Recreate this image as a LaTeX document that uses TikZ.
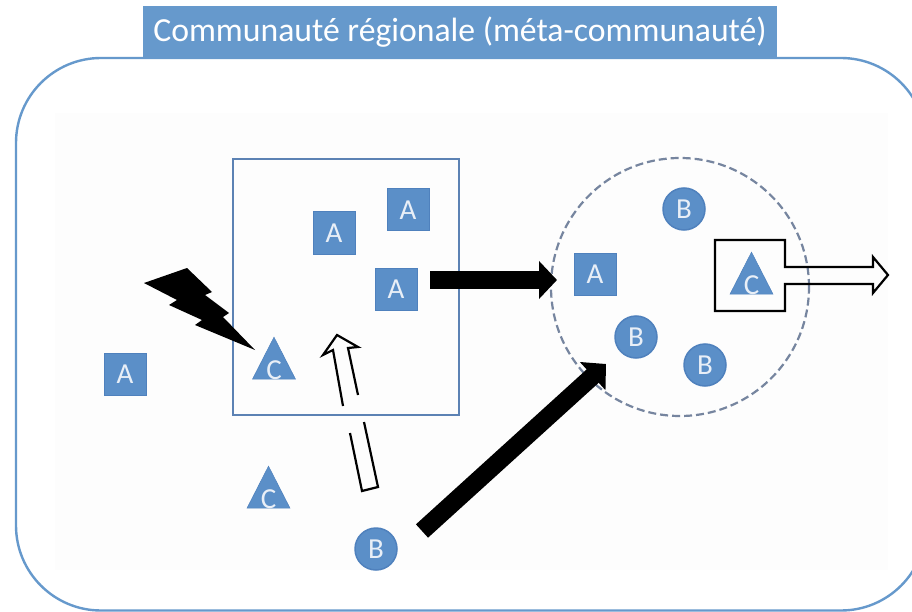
\documentclass[tikz,border=0pt]{standalone}
\usepackage{fontspec}
\setmainfont{Carlito}
\usetikzlibrary{shapes.geometric,arrows.meta}
\definecolor{titleblue}{HTML}{6699CC}
\definecolor{shapeblue}{HTML}{5B8FC8}
\definecolor{edgeblue}{HTML}{4F81BD}
\definecolor{boxblue}{HTML}{5C82B4}
\definecolor{dashgrey}{HTML}{76859F}
\definecolor{labelwhite}{HTML}{E9EFF7}
\definecolor{backwhite}{HTML}{FDFDFD}
\tikzset{
	speciesA/.style = {draw = edgeblue, fill = shapeblue, line width = 1pt, rectangle,
		minimum size = 42pt, inner sep = 0pt, text = labelwhite, font = \fontsize{29}{29}\selectfont},
	speciesB/.style = {draw = edgeblue, fill = shapeblue, line width = 1.5pt, circle,
		minimum size = 42pt, inner sep = 0pt, text = labelwhite, font = \fontsize{29}{29}\selectfont},
	speciesC/.style = {fill = shapeblue, draw = edgeblue, line width = 0.5pt, isosceles triangle,
		isosceles triangle stretches, shape border rotate = 90, minimum width = 43pt,
		minimum height = 42pt, inner sep = 0pt,
		label = {[yshift = -4pt, inner sep = 0pt, text = labelwhite, font = \fontsize{29}{29}\selectfont]center:#1}},
	solid arrow/.style = {line width = 18pt, -{Triangle[length = 18pt, width = 37pt]}},
	hollow arrow/.style = {draw, line width = 2.2pt, line join = miter}
}
\begin{document}
\begin{tikzpicture}[x = 1pt, y = -1pt]
	\path[use as bounding box, clip] (0,0) rectangle (912,612);
	\fill[white] (0,0) rectangle (912,612);
	\fill[backwhite] (55,113) rectangle (888,570);
	% frame and title
	\draw[titleblue, line width = 2.4pt, rounded corners = 85pt] (16,58) rectangle (926,610.5);
	\node[fill = titleblue, text = white, minimum width = 634pt, minimum height = 51pt, inner sep = 0pt,
		text height = 28pt, text depth = 7pt,
		font = \fontsize{33.7}{33.7}\selectfont] (title) at (460,31.5) {Communauté régionale (méta-communauté)};
	% habitats
	\draw[boxblue, line width = 2.4pt] (233,159) rectangle (459,415);
	\node[draw = dashgrey, line width = 2.2pt, dashed, dash pattern = on 8pt off 4pt, circle,
		minimum size = 258pt, inner sep = 0pt] (patch) at (680,287) {};
	% species
	\draw
	node at (334,233)[speciesA] (a1) {A}
	node at (408,210)[speciesA] (a2) {A}
	node at (396,289.5)[speciesA] (a3) {A}
	node at (125,374)[speciesA] (a4) {A}
	node at (595,274.5)[speciesA] (a5) {A}
	node at (684,209)[speciesB] (b1) {B}
	node at (636,337)[speciesB] (b2) {B}
	node at (705,365)[speciesB] (b3) {B}
	node at (376,549)[speciesB] (b4) {B}
	node at (274,366)[speciesC = C] (c1) {}
	node at (268.5,495)[speciesC = C] (c2) {}
	node at (751.5,281)[speciesC = C] (c3) {};
	% dispersal
	\coordinate (a3out) at (430,280);
	\coordinate (a5in) at (557,280);
	\coordinate (b4out) at (422,531);
	\coordinate (patchin) at (606,364);
	\draw[solid arrow] (a3out) -- (a5in);
	\draw[solid arrow] (b4out) -- (patchin);
	\draw[hollow arrow] (343,406) -- (333,350) -- (323,355) -- (337,335) -- (358,347) -- (348,348) -- (358,395);
	\draw[hollow arrow] (350,433) -- (362,491) -- (378,487) -- (364,422);
	\draw[hollow arrow] (785,267) -- (785,240) -- (715,240) -- (715,311) -- (785,311) -- (785,284)
		-- (873,284) -- (873,293) -- (888,275) -- (873,257) -- (873,267) -- cycle;
	% extinction
	\fill[black] (144,283) -- (187,268) -- (212,292) -- (205,295) -- (229,313) -- (223,317) -- (255,350)
		-- (195,325) -- (202,320) -- (169,305) -- (177,300) -- cycle;
\end{tikzpicture}
\end{document}
